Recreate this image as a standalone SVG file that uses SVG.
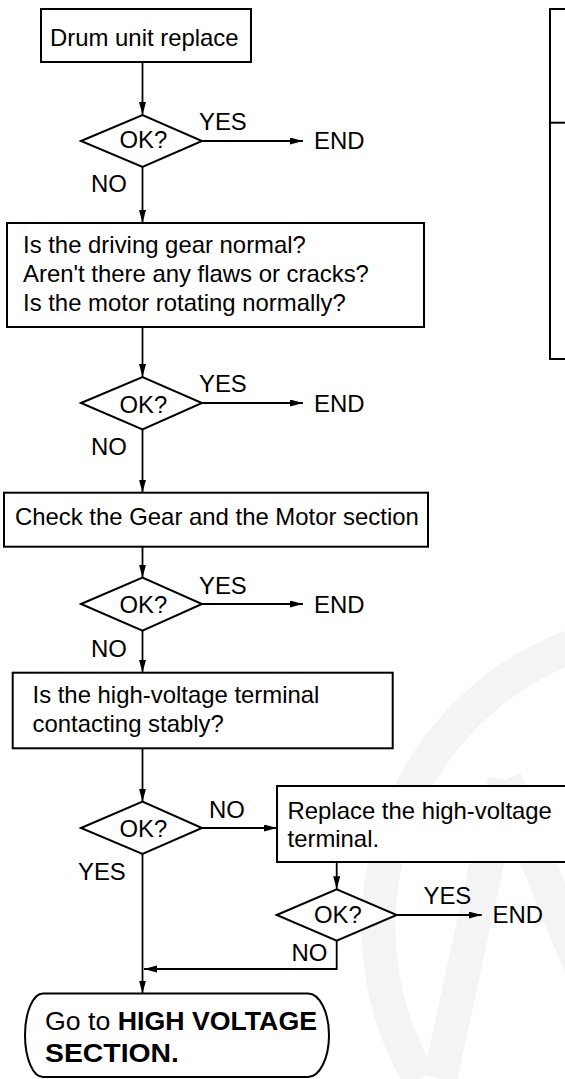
<svg xmlns="http://www.w3.org/2000/svg" width="565" height="1079" viewBox="0 0 565 1079">
<defs>
<style>
.box{fill:#fff;stroke:#000;stroke-width:2}
.ln{fill:none;stroke:#000;stroke-width:1.8}
.t{font-family:"Liberation Sans",Arial,sans-serif;font-size:24px;fill:#000}
.tt{font-family:"Liberation Sans",Arial,sans-serif;font-size:26px;fill:#000}
.b{font-weight:bold}
.wm{fill:none;stroke:#f4f4f4;stroke-width:34}
</style>
<marker id="ah" markerUnits="userSpaceOnUse" markerWidth="14" markerHeight="8" refX="13" refY="3.5" orient="auto">
<path d="M0,0 L13,3.5 L0,7 z" fill="#000"/>
</marker>
</defs>
<rect width="565" height="1079" fill="#fff"/>
<g id="watermark">
<path class="wm" d="M 590 640 A 300 300 0 0 0 420 1079"/>
<path class="wm" d="M 505 780 L 590 990"/>
<path class="wm" d="M 505 780 L 440 1079"/>
</g>
<g id="connectors">
<line class="ln" x1="142.5" y1="62" x2="142.5" y2="115" marker-end="url(#ah)"/>
<line class="ln" x1="202" y1="141" x2="303" y2="141" marker-end="url(#ah)"/>
<line class="ln" x1="142.5" y1="167" x2="142.5" y2="223" marker-end="url(#ah)"/>
<line class="ln" x1="142.5" y1="327" x2="142.5" y2="377" marker-end="url(#ah)"/>
<line class="ln" x1="202" y1="403" x2="303" y2="403" marker-end="url(#ah)"/>
<line class="ln" x1="142.5" y1="429.5" x2="142.5" y2="492.7" marker-end="url(#ah)"/>
<line class="ln" x1="142.5" y1="546.7" x2="142.5" y2="577.7" marker-end="url(#ah)"/>
<line class="ln" x1="202" y1="604" x2="303" y2="604" marker-end="url(#ah)"/>
<line class="ln" x1="142.5" y1="630.7" x2="142.5" y2="672.7" marker-end="url(#ah)"/>
<line class="ln" x1="142.5" y1="748.3" x2="142.5" y2="801.7" marker-end="url(#ah)"/>
<line class="ln" x1="202" y1="828" x2="277" y2="828" marker-end="url(#ah)"/>
<line class="ln" x1="336.7" y1="862" x2="336.7" y2="889.3" marker-end="url(#ah)"/>
<line class="ln" x1="396.7" y1="915" x2="481.7" y2="915" marker-end="url(#ah)"/>
<polyline class="ln" points="336.7,940.7 336.7,969 144,969" marker-end="url(#ah)"/>
<line class="ln" x1="142.5" y1="854" x2="142.5" y2="993.5" marker-end="url(#ah)"/>
<text class="t" x="199" y="130" textLength="47.8" lengthAdjust="spacingAndGlyphs">YES</text>
<text class="t" x="91" y="192" textLength="35.9" lengthAdjust="spacingAndGlyphs">NO</text>
<text class="t" x="199" y="391.7" textLength="47.8" lengthAdjust="spacingAndGlyphs">YES</text>
<text class="t" x="91" y="455" textLength="35.9" lengthAdjust="spacingAndGlyphs">NO</text>
<text class="t" x="199" y="594" textLength="47.8" lengthAdjust="spacingAndGlyphs">YES</text>
<text class="t" x="91" y="656.5" textLength="35.9" lengthAdjust="spacingAndGlyphs">NO</text>
<text class="t" x="209" y="818" textLength="35.9" lengthAdjust="spacingAndGlyphs">NO</text>
<text class="t" x="78" y="880" textLength="47.8" lengthAdjust="spacingAndGlyphs">YES</text>
<text class="t" x="423.5" y="904" textLength="47.8" lengthAdjust="spacingAndGlyphs">YES</text>
<text class="t" x="291.5" y="960.7" textLength="35.9" lengthAdjust="spacingAndGlyphs">NO</text>
</g>
<g id="n1">
<rect class="box" x="41" y="9" width="210" height="53"/>
<text class="t" x="50" y="46" textLength="188.6" lengthAdjust="spacingAndGlyphs">Drum unit replace</text>
</g>
<g id="d1">
<polygon class="box" points="81,141 142.5,115 202,141 142.5,167"/>
<text class="t" x="119.5" y="148" textLength="47.8" lengthAdjust="spacingAndGlyphs">OK?</text>
</g>
<g id="end1"><text class="t" x="314" y="149" textLength="50.5" lengthAdjust="spacingAndGlyphs">END</text></g>
<g id="n2">
<rect class="box" x="7" y="223" width="417" height="104"/>
<text class="t" x="23" y="253.3" textLength="282.9" lengthAdjust="spacingAndGlyphs">Is the driving gear normal?</text>
<text class="t" x="23" y="281.7" textLength="345.9" lengthAdjust="spacingAndGlyphs">Aren't there any flaws or cracks?</text>
<text class="t" x="23" y="310.7" textLength="322.8" lengthAdjust="spacingAndGlyphs">Is the motor rotating normally?</text>
</g>
<g id="d2">
<polygon class="box" points="81,403 142.5,377 202,403 142.5,429.5"/>
<text class="t" x="119.5" y="412.5" textLength="47.8" lengthAdjust="spacingAndGlyphs">OK?</text>
</g>
<g id="end2"><text class="t" x="314" y="411.7" textLength="50.5" lengthAdjust="spacingAndGlyphs">END</text></g>
<g id="n3">
<rect class="box" x="4" y="492.7" width="424" height="54"/>
<text class="t" x="15" y="525" textLength="403.8" lengthAdjust="spacingAndGlyphs">Check the Gear and the Motor section</text>
</g>
<g id="d3">
<polygon class="box" points="81,604 142.5,577.7 202,604 142.5,630.7"/>
<text class="t" x="119.5" y="613.3" textLength="47.8" lengthAdjust="spacingAndGlyphs">OK?</text>
</g>
<g id="end3"><text class="t" x="314" y="613.3" textLength="50.5" lengthAdjust="spacingAndGlyphs">END</text></g>
<g id="n4">
<rect class="box" x="12.7" y="672.7" width="380" height="75.6"/>
<text class="t" x="32.5" y="703.3" textLength="286.9" lengthAdjust="spacingAndGlyphs">Is the high-voltage terminal</text>
<text class="t" x="32.5" y="731.7" textLength="191.3" lengthAdjust="spacingAndGlyphs">contacting stably?</text>
</g>
<g id="d4">
<polygon class="box" points="81,828 142.5,801.7 202,828 142.5,854"/>
<text class="t" x="119.5" y="837" textLength="47.8" lengthAdjust="spacingAndGlyphs">OK?</text>
</g>
<g id="n5">
<rect class="box" x="277" y="786" width="300" height="76"/>
<text class="t" x="287.5" y="819.3" textLength="264.4" lengthAdjust="spacingAndGlyphs">Replace the high-voltage</text>
<text class="t" x="287.5" y="847.3" textLength="91.6" lengthAdjust="spacingAndGlyphs">terminal.</text>
</g>
<g id="d5">
<polygon class="box" points="276.7,915 336.7,889.3 396.7,915 336.7,940.7"/>
<text class="t" x="314" y="923" textLength="47.8" lengthAdjust="spacingAndGlyphs">OK?</text>
</g>
<g id="end5"><text class="t" x="492.5" y="923.3" textLength="50.5" lengthAdjust="spacingAndGlyphs">END</text></g>
<g id="n6">
<path class="box" d="M 43 993.5 L 308 993.5 A 21 41.75 0 0 1 308 1077 L 43 1077 A 18 41.75 0 0 1 43 993.5 Z"/>
<text class="tt" x="45" y="1030" textLength="272" lengthAdjust="spacingAndGlyphs">Go to <tspan class="b">HIGH VOLTAGE</tspan></text>
<text class="tt b" x="45" y="1062" textLength="134" lengthAdjust="spacingAndGlyphs">SECTION.</text>
</g>
<g id="n7">
<rect class="box" x="550" y="9" width="30" height="350"/>
<line class="ln" x1="550" y1="122.7" x2="570" y2="122.7" style="stroke-width:2"/>
</g>
</svg>
